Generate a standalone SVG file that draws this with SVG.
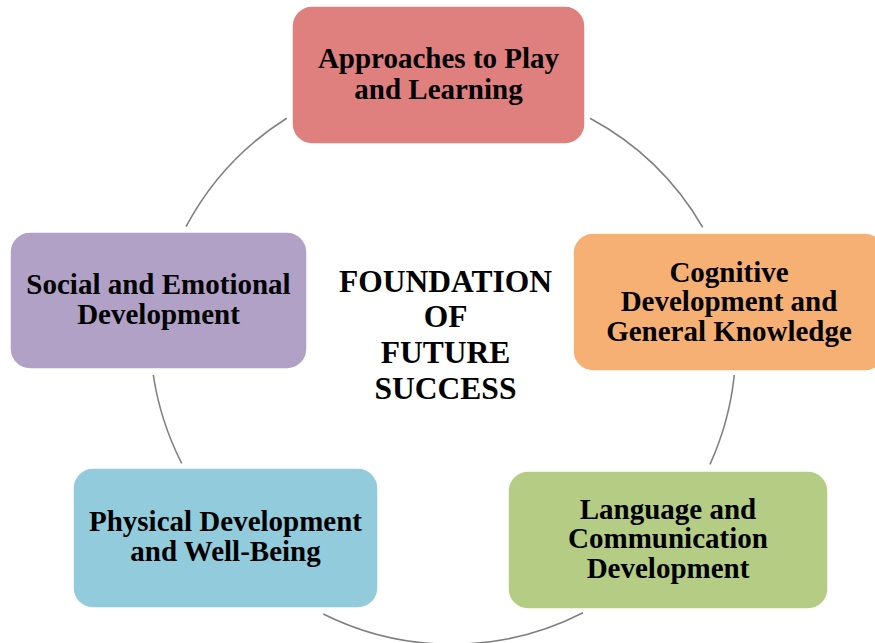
<svg xmlns="http://www.w3.org/2000/svg" width="875" height="643" viewBox="0 0 875 643">
<style>
.box{stroke:#ffffff;stroke-width:1.5}
.t{font-family:"Liberation Serif","Times New Roman",serif;font-weight:bold;font-size:29px;fill:#000;text-anchor:middle}
.c{font-size:31.5px}
.arc{fill:none;stroke:#808080;stroke-width:1.6}
</style>
<rect width="875" height="643" fill="#ffffff"/>
<g id="connectors">
<path class="arc" d="M186,226.7 A288,288 0 0 1 286.7,118.3"/>
<path class="arc" d="M590,118.3 A288,288 0 0 1 702.7,227.3"/>
<path class="arc" d="M734.3,375 A288,288 0 0 1 710,464.3"/>
<path class="arc" d="M583,612.7 A288,288 0 0 1 323.3,614"/>
<path class="arc" d="M181.7,463.3 A288,288 0 0 1 153.3,375"/>
</g>
<g id="node-approaches">
<rect class="box" x="292" y="6" width="293" height="138" rx="20" fill="#DF7F7E"/>
<text class="t" x="438.5" y="68.3">Approaches to Play</text>
<text class="t" x="438.5" y="99">and Learning</text>
</g>
<g id="node-cognitive">
<rect class="box" x="573" y="233" width="312" height="138" rx="20" fill="#F7B073"/>
<text class="t" x="729" y="281.7">Cognitive</text>
<text class="t" x="729" y="310.7">Development and</text>
<text class="t" x="729" y="340.7">General Knowledge</text>
</g>
<g id="node-language">
<rect class="box" x="508" y="471" width="320" height="138" rx="20" fill="#B4CC84"/>
<text class="t" x="668" y="519.3">Language and</text>
<text class="t" x="668" y="548.3">Communication</text>
<text class="t" x="668" y="578.3">Development</text>
</g>
<g id="node-physical">
<rect class="box" x="73" y="468" width="305" height="140" rx="20" fill="#92CBDC"/>
<text class="t" x="225.5" y="530.5">Physical Development</text>
<text class="t" x="225.5" y="560.5">and Well-Being</text>
</g>
<g id="node-social">
<rect class="box" x="10" y="232" width="297" height="137" rx="20" fill="#B2A1C7"/>
<text class="t" x="158.5" y="294">Social and Emotional</text>
<text class="t" x="158.5" y="324">Development</text>
</g>
<g id="center">
<text class="t c" x="445.5" y="291.7">FOUNDATION</text>
<text class="t c" x="445.5" y="327.3">OF</text>
<text class="t c" x="445.5" y="362.7">FUTURE</text>
<text class="t c" x="445.5" y="399.3">SUCCESS</text>
</g>
</svg>
